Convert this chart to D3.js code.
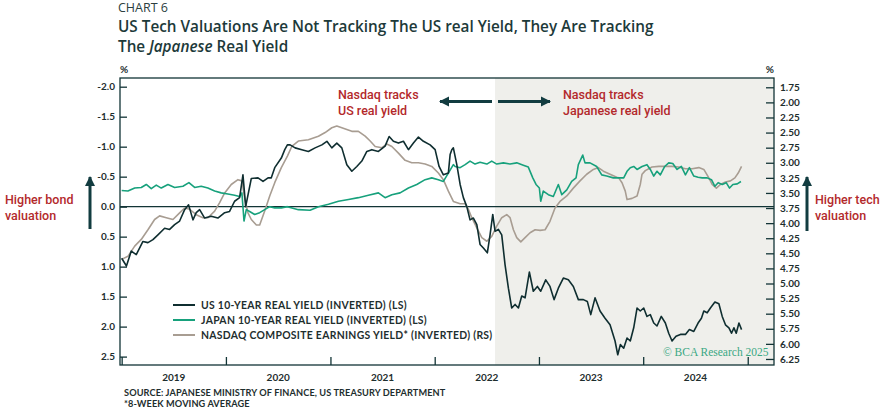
<!DOCTYPE html>
<html><head><meta charset="utf-8">
<script src="https://cdn.jsdelivr.net/npm/d3@7"></script>
<style>
html,body{margin:0;padding:0;background:#fff;}
svg{display:block;}
</style></head>
<body>
<svg id="chart" width="884" height="413"></svg>
<script>
// ---- DATA (decimal year, value) ----
const usRealYield = [
[2019.000,0.86],[2019.046,0.99],[2019.092,0.74],[2019.140,0.80],[2019.204,0.58],[2019.252,0.60],[2019.300,0.55],[2019.348,0.47],
[2019.412,0.36],[2019.460,0.38],[2019.508,0.30],[2019.556,0.24],[2019.604,0.05],[2019.642,-0.03],[2019.684,0.22],[2019.715,0.10],
[2019.748,0.05],[2019.796,0.19],[2019.859,0.16],[2019.923,0.19],[2019.988,0.10],[2020.035,0.08],[2020.083,-0.09],[2020.131,-0.15],
[2020.163,-0.53],[2020.189,0.00],[2020.243,-0.47],[2020.307,-0.48],[2020.355,-0.42],[2020.403,-0.48],[2020.434,-0.48],[2020.467,-0.65],
[2020.530,-0.81],[2020.563,-0.95],[2020.588,-1.03],[2020.614,-1.03],[2020.662,-0.98],[2020.726,-0.95],[2020.789,-0.92],[2020.853,-0.98],
[2020.918,-1.03],[2020.966,-1.09],[2021.013,-0.98],[2021.061,-1.06],[2021.109,-0.98],[2021.157,-0.70],[2021.205,-0.59],[2021.253,-0.67],
[2021.301,-0.76],[2021.349,-0.92],[2021.397,-0.95],[2021.460,-0.92],[2021.524,-1.01],[2021.563,-1.17],[2021.604,-1.09],[2021.652,-1.06],
[2021.700,-1.09],[2021.748,-0.95],[2021.796,-1.06],[2021.844,-1.16],[2021.892,-1.09],[2021.956,-1.03],[2022.004,-0.95],[2022.042,-0.67],
[2022.083,-0.53],[2022.131,-0.56],[2022.148,-0.87],[2022.164,-0.95],[2022.179,-0.98],[2022.212,-0.70],[2022.244,-0.37],[2022.275,-0.15],
[2022.308,0.00],[2022.339,0.22],[2022.371,0.19],[2022.404,0.30],[2022.435,0.63],[2022.467,0.69],[2022.505,0.77],[2022.531,0.47],
[2022.557,0.13],[2022.579,0.41],[2022.611,0.38],[2022.643,0.47],[2022.675,0.97],[2022.707,1.36],[2022.739,1.69],[2022.771,1.63],
[2022.803,1.69],[2022.835,1.49],[2022.867,1.52],[2022.908,1.09],[2022.946,1.41],[2022.985,1.33],[2023.017,1.41],[2023.065,1.22],
[2023.106,1.33],[2023.145,1.55],[2023.186,1.36],[2023.234,1.19],[2023.282,1.22],[2023.330,1.33],[2023.378,1.55],[2023.426,1.55],
[2023.464,1.58],[2023.497,1.80],[2023.538,1.52],[2023.586,1.74],[2023.634,1.86],[2023.682,1.97],[2023.730,2.24],[2023.756,2.47],
[2023.781,2.30],[2023.813,2.36],[2023.845,2.19],[2023.876,2.24],[2023.909,2.02],[2023.941,1.69],[2023.972,1.74],[2024.005,1.69],
[2024.036,1.83],[2024.068,1.80],[2024.101,1.94],[2024.132,1.99],[2024.173,1.83],[2024.212,1.94],[2024.244,2.11],[2024.276,2.24],
[2024.314,2.16],[2024.356,2.13],[2024.404,2.13],[2024.442,2.05],[2024.484,2.08],[2024.525,1.94],[2024.557,1.86],[2024.580,1.74],
[2024.612,1.77],[2024.643,1.69],[2024.686,1.59],[2024.724,1.62],[2024.756,1.83],[2024.787,1.97],[2024.820,2.02],[2024.845,2.11],
[2024.868,2.02],[2024.890,2.11],[2024.916,1.94],[2024.941,2.05]
];
const japanRealYield = [
[2019.000,-0.27],[2019.060,-0.26],[2019.125,-0.31],[2019.188,-0.32],[2019.236,-0.37],[2019.284,-0.30],[2019.332,-0.36],[2019.380,-0.31],
[2019.444,-0.37],[2019.508,-0.32],[2019.588,-0.34],[2019.645,-0.40],[2019.700,-0.32],[2019.763,-0.34],[2019.827,-0.31],[2019.892,-0.26],
[2019.955,-0.23],[2020.019,-0.21],[2020.083,-0.19],[2020.131,-0.17],[2020.153,-0.23],[2020.173,0.24],[2020.195,0.05],[2020.227,0.08],
[2020.275,0.13],[2020.323,0.10],[2020.371,0.05],[2020.419,0.00],[2020.467,0.02],[2020.530,0.02],[2020.588,0.00],[2020.693,0.05],
[2020.805,0.06],[2020.885,0.00],[2020.981,-0.04],[2021.077,-0.09],[2021.173,-0.12],[2021.268,-0.15],[2021.364,-0.19],[2021.460,-0.23],
[2021.524,-0.15],[2021.589,-0.20],[2021.668,-0.23],[2021.748,-0.31],[2021.828,-0.37],[2021.908,-0.45],[2021.972,-0.48],[2022.035,-0.45],
[2022.083,-0.42],[2022.131,-0.56],[2022.179,-0.70],[2022.196,-0.67],[2022.244,-0.65],[2022.292,-0.70],[2022.339,-0.76],[2022.387,-0.71],
[2022.435,-0.74],[2022.500,-0.71],[2022.547,-0.76],[2022.595,-0.71],[2022.659,-0.73],[2022.723,-0.71],[2022.787,-0.73],[2022.850,-0.69],
[2022.898,-0.66],[2022.941,-0.48],[2022.972,-0.37],[2023.004,-0.31],[2023.017,-0.09],[2023.042,-0.26],[2023.090,-0.20],[2023.138,-0.17],
[2023.186,-0.37],[2023.219,-0.20],[2023.267,-0.28],[2023.314,-0.42],[2023.356,-0.48],[2023.378,-0.70],[2023.420,-0.86],[2023.442,-0.73],
[2023.490,-0.73],[2023.554,-0.67],[2023.602,-0.53],[2023.650,-0.51],[2023.713,-0.48],[2023.765,-0.48],[2023.813,-0.48],[2023.845,-0.59],
[2023.876,-0.65],[2023.909,-0.67],[2023.941,-0.62],[2023.989,-0.67],[2024.036,-0.70],[2024.068,-0.62],[2024.101,-0.51],[2024.132,-0.59],
[2024.164,-0.53],[2024.206,-0.67],[2024.244,-0.73],[2024.283,-0.72],[2024.324,-0.62],[2024.365,-0.67],[2024.404,-0.53],[2024.442,-0.65],
[2024.484,-0.51],[2024.525,-0.49],[2024.564,-0.48],[2024.612,-0.48],[2024.653,-0.45],[2024.686,-0.34],[2024.717,-0.40],[2024.756,-0.37],
[2024.794,-0.40],[2024.826,-0.31],[2024.858,-0.37],[2024.900,-0.38],[2024.935,-0.42]
];
const nasdaqEarningsYield = [
[2019.000,4.60],[2019.060,4.55],[2019.125,4.38],[2019.188,4.27],[2019.252,4.11],[2019.316,3.94],[2019.364,3.88],[2019.428,3.91],
[2019.492,3.94],[2019.556,3.83],[2019.604,3.75],[2019.652,3.77],[2019.715,3.86],[2019.779,3.91],[2019.827,3.91],[2019.892,3.80],
[2019.940,3.66],[2019.988,3.50],[2020.051,3.36],[2020.115,3.28],[2020.153,3.30],[2020.179,3.58],[2020.211,3.83],[2020.243,3.94],
[2020.291,4.03],[2020.323,4.03],[2020.371,3.80],[2020.419,3.55],[2020.467,3.33],[2020.530,3.08],[2020.588,2.89],[2020.630,2.73],
[2020.693,2.64],[2020.789,2.62],[2020.885,2.56],[2020.949,2.50],[2021.013,2.42],[2021.061,2.39],[2021.109,2.42],[2021.157,2.45],
[2021.205,2.48],[2021.268,2.48],[2021.333,2.56],[2021.381,2.64],[2021.429,2.73],[2021.493,2.75],[2021.541,2.69],[2021.589,2.73],
[2021.652,2.84],[2021.716,2.96],[2021.780,3.00],[2021.844,3.00],[2021.908,3.02],[2021.972,3.06],[2022.035,3.17],[2022.083,3.28],
[2022.131,3.47],[2022.179,3.64],[2022.244,3.68],[2022.292,3.68],[2022.323,3.77],[2022.356,3.91],[2022.404,4.08],[2022.452,4.24],
[2022.500,4.30],[2022.547,4.22],[2022.595,4.05],[2022.643,3.91],[2022.691,3.86],[2022.723,3.91],[2022.755,4.11],[2022.787,4.24],
[2022.826,4.31],[2022.867,4.24],[2022.915,4.16],[2022.963,4.11],[2023.011,4.12],[2023.059,4.11],[2023.106,3.97],[2023.154,3.75],
[2023.202,3.64],[2023.267,3.55],[2023.330,3.42],[2023.394,3.30],[2023.458,3.19],[2023.522,3.11],[2023.570,3.08],[2023.618,3.14],
[2023.682,3.19],[2023.746,3.24],[2023.765,3.25],[2023.797,3.33],[2023.828,3.47],[2023.845,3.61],[2023.893,3.59],[2023.941,3.55],
[2023.972,3.36],[2023.989,3.19],[2024.020,3.13],[2024.084,3.07],[2024.149,3.06],[2024.212,3.06],[2024.276,3.06],[2024.340,3.07],
[2024.404,3.10],[2024.468,3.10],[2024.532,3.08],[2024.580,3.11],[2024.628,3.25],[2024.660,3.36],[2024.700,3.42],[2024.739,3.36],
[2024.787,3.32],[2024.835,3.30],[2024.877,3.25],[2024.909,3.17],[2024.941,3.06]
];
const leftTicks = [-2.0,-1.5,-1.0,-0.5,0.0,0.5,1.0,1.5,2.0,2.5];
const rightTicks = [1.75,2.00,2.25,2.50,2.75,3.00,3.25,3.50,3.75,4.00,4.25,4.50,4.75,5.00,5.25,5.50,5.75,6.00,6.25];
const yearLabels = [2019,2020,2021,2022,2023,2024];
const shadeStart = 2022.579;
const legendItems = [
  {label:"US 10-YEAR REAL YIELD (INVERTED) (LS)", color:"#0f2e30"},
  {label:"JAPAN 10-YEAR REAL YIELD (INVERTED) (LS)", color:"#17a17c"},
  {label:"NASDAQ COMPOSITE EARNINGS YIELD* (INVERTED) (RS)", color:"#a89d92"}
];

// ---- helpers ----
function yd(t){const y=Math.floor(t);const s=new Date(y,0,1),e=new Date(y+1,0,1);return new Date(+s+(t-y)*(e-s));}

const svg = d3.select("#chart");
const L=120,R=774,T=78,B=365;
const DARK="#123436", RED="#b3292b";

const x = d3.scaleTime().domain([yd(2018.984), yd(2025.252)]).range([L,R]);
const yL = d3.scaleLinear().domain([-2.145,2.64]).range([T,B]);
const yR = d3.scaleLinear().domain([1.596,6.35]).range([T,B]);

// title
svg.append("text").attr("x",118).attr("y",12).attr("font-family","Open Sans").attr("font-size",12.5).attr("font-weight",400).attr("fill","#2b3f3f").text("CHART 6");
svg.append("text").attr("x",118).attr("y",32).attr("font-family","Open Sans").attr("font-size",15.3).attr("font-weight",600).attr("fill","#1d3a3a")
  .text("US Tech Valuations Are Not Tracking The US real Yield, They Are Tracking");
const t2 = svg.append("text").attr("x",118).attr("y",52).attr("font-family","Open Sans").attr("font-size",15.3).attr("font-weight",600).attr("fill","#1d3a3a");
t2.append("tspan").text("The ");
t2.append("tspan").attr("font-style","italic").text("Japanese");
t2.append("tspan").text(" Real Yield");

// shade
svg.append("rect").attr("x",x(yd(shadeStart))).attr("y",T).attr("width",R-x(yd(shadeStart))).attr("height",B-T).attr("fill","#efefeb");

// axes
const axL = svg.append("g").attr("transform",`translate(${L},0)`)
  .call(d3.axisLeft(yL).tickValues(leftTicks).tickSize(-7).tickPadding(5).tickFormat(d=>d.toFixed(1)));
const axR = svg.append("g").attr("transform",`translate(${R},0)`)
  .call(d3.axisRight(yR).tickValues(rightTicks).tickSize(-8).tickPadding(6).tickFormat(d=>d.toFixed(2)));
const axB = svg.append("g").attr("transform",`translate(0,${B})`)
  .call(d3.axisBottom(x).ticks(d3.timeYear.every(1)).tickSize(-8).tickFormat(""));
[axL,axR,axB].forEach(g=>{
  g.select(".domain").remove();
  g.selectAll(".tick line").attr("stroke",DARK).attr("stroke-width",1.3);
  g.selectAll(".tick text").attr("font-family","Lato").attr("font-weight",700).attr("font-size",10).attr("fill","#1e2e2e");
});

// frame
svg.append("rect").attr("x",L).attr("y",T).attr("width",R-L).attr("height",B-T).attr("fill","none").attr("stroke",DARK).attr("stroke-width",1.3);
// zero line
svg.append("line").attr("x1",L).attr("x2",R).attr("y1",yL(0)).attr("y2",yL(0)).attr("stroke",DARK).attr("stroke-width",1.2);

// year labels
svg.selectAll("text.yr").data(yearLabels).enter().append("text").attr("class","yr")
  .attr("x",d=>(x(new Date(d,0,1))+x(new Date(d+1,0,1)))/2).attr("y",381).attr("text-anchor","middle")
  .attr("font-family","Lato").attr("font-weight",700).attr("font-size",10).attr("fill","#1e2e2e").text(d=>d);

// % labels
svg.append("text").attr("x",L).attr("y",73).attr("font-family","Lato").attr("font-size",10).attr("font-weight",700).attr("fill","#1e2e2e").text("%");
svg.append("text").attr("x",R).attr("y",73).attr("text-anchor","end").attr("font-family","Lato").attr("font-size",10).attr("font-weight",700).attr("fill","#1e2e2e").text("%");

// lines
const lineL = d3.line().x(d=>x(yd(d[0]))).y(d=>yL(d[1]));
const lineR = d3.line().x(d=>x(yd(d[0]))).y(d=>yR(d[1]));
svg.append("path").datum(nasdaqEarningsYield).attr("d",lineR).attr("fill","none").attr("stroke","#a89d92").attr("stroke-width",1.6).attr("stroke-linejoin","round");
svg.append("path").datum(japanRealYield).attr("d",lineL).attr("fill","none").attr("stroke","#17a17c").attr("stroke-width",1.6).attr("stroke-linejoin","round");
svg.append("path").datum(usRealYield).attr("d",lineL).attr("fill","none").attr("stroke","#0f2e30").attr("stroke-width",1.6).attr("stroke-linejoin","round");

// legend
const lg = svg.append("g");
legendItems.forEach((d,i)=>{
  const yy = 305 + i*15;
  lg.append("line").attr("x1",173).attr("x2",195).attr("y1",yy).attr("y2",yy).attr("stroke",d.color).attr("stroke-width",2);
  lg.append("text").attr("x",201).attr("y",yy+3.8).attr("font-family","Lato").attr("font-weight",700).attr("font-size",10.4).attr("letter-spacing",0.3).attr("fill","#1e2e2e").text(d.label);
});

// copyright
svg.append("text").attr("x",663).attr("y",356).attr("font-family","Liberation Serif").attr("font-size",11.5).attr("fill","#3aa883").text("© BCA Research 2025");

// source
svg.append("text").attr("x",124).attr("y",396).attr("font-family","Lato").attr("font-weight",700).attr("font-size",9.2).attr("letter-spacing",0.1).attr("fill","#1e2e2e").text("SOURCE: JAPANESE MINISTRY OF FINANCE, US TREASURY DEPARTMENT");
svg.append("text").attr("x",124).attr("y",407).attr("font-family","Lato").attr("font-weight",700).attr("font-size",9.2).attr("letter-spacing",0.1).attr("fill","#1e2e2e").text("*8-WEEK MOVING AVERAGE");

// arrows
const defs = svg.append("defs");
defs.append("marker").attr("id","ah").attr("viewBox","0 0 10 10").attr("refX",9).attr("refY",5)
  .attr("markerWidth",3.4).attr("markerHeight",3.4).attr("orient","auto").attr("markerUnits","strokeWidth")
  .append("path").attr("d","M0,0 L10,5 L0,10 z").attr("fill","#123c40");
function arrow(x1,y1,x2,y2){
  svg.append("line").attr("x1",x1).attr("y1",y1).attr("x2",x2).attr("y2",y2).attr("stroke","#123c40").attr("stroke-width",3).attr("marker-end","url(#ah)");
}
arrow(492,101.5,440,101.5);
arrow(498,101.5,550,101.5);
arrow(90,229,90,177);
arrow(807,231,807,177);

// annotations
function note(xx,yy,lines,anchor){
  const t = svg.append("text").attr("x",xx).attr("y",yy).attr("font-family","Roboto").attr("font-weight",500).attr("font-size",12.5).attr("fill",RED).attr("text-anchor",anchor||"start");
  lines.forEach((s,i)=>t.append("tspan").attr("x",xx).attr("dy",i?16:0).text(s));
}
note(338,99,["Nasdaq tracks","US real yield"]);
note(563,99,["Nasdaq tracks","Japanese real yield"]);
note(5,204,["Higher bond","valuation"]);
note(815,204,["Higher tech","valuation"]);
</script>
</body></html>
